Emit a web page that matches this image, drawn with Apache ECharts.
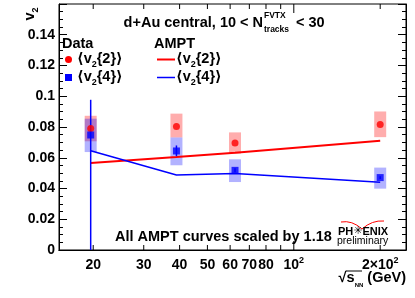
<!DOCTYPE html>
<html>
<head>
<meta charset="utf-8">
<script src="https://cdn.jsdelivr.net/npm/echarts@6/dist/echarts.min.js"></script>
<style>html,body{margin:0;padding:0;background:#fff}#c{width:415px;height:298px}</style>
</head>
<body>
<div id="c"></div>
<script>
// ---- data ----
const energies = [19.6, 39, 62.4, 200];
const v22 = [0.0790, 0.0804, 0.0696, 0.0817];
const v22SysLo = [0.0707, 0.0732, 0.0627, 0.0734];
const v22SysHi = [0.0873, 0.0887, 0.0765, 0.0901];
const v24 = [0.0748, 0.0644, 0.0518, 0.0471];
const v24StatLo = [0.0, 0.0610, 0.0505, 0.0462];
const v24StatHi = [0.0977, 0.0680, 0.0532, 0.0480];
const v24SysLo = [0.0637, 0.0551, 0.0442, 0.0399];
const v24SysHi = [0.0854, 0.0732, 0.0590, 0.0536];
const amptV22 = [0.0566, 0.0605, 0.0633, 0.0711];
const amptV24 = [0.0646, 0.0488, 0.0497, 0.0440];
const xTickVals = [20, 30, 40, 50, 60, 70, 80, 90, 100, 200];
const xMajorTicks = [100];
const xLabelVals = [20, 30, 40, 50, 60, 70, 80, 100, 200];
const xLabelTexts = ['20', '30', '40', '50', '60', '70', '80', '10{sup|2}', '2×10{sup|2}'];

const FONT = '"Liberation Sans", "DejaVu Sans", Arial, sans-serif';
const chart = echarts.init(document.getElementById('c'), null, {renderer: 'canvas'});

function zip3(a, b, c) { return a.map((v, i) => [v, b[i], c[i]]); }
function zip2(a, b) { return a.map((v, i) => [v, b[i]]); }

function boxSeries(lo, hi, color) {
  return {
    type: 'custom', z: 1, clip: true,
    encode: {x: 0, y: [1, 2]},
    data: zip3(energies, lo, hi),
    renderItem: function (params, api) {
      const p1 = api.coord([api.value(0), api.value(2)]);
      const p2 = api.coord([api.value(0), api.value(1)]);
      return {type: 'rect', shape: {x: p1[0] - 6, y: p1[1], width: 12, height: p2[1] - p1[1]},
        style: {fill: color}};
    }
  };
}

const supRich = {sup: {fontSize: 9, fontWeight: 'bold', fontFamily: FONT, verticalAlign: 'top', lineHeight: 12}};
const subRich = {s: {fontSize: 9, fontWeight: 'bold', fontFamily: FONT, verticalAlign: 'bottom', lineHeight: 10}};

function legText(x, y, txt) {
  return {type: 'text', x: x, y: y,
    style: {text: txt, align: 'left', verticalAlign: 'middle', fontSize: 14.5, fontWeight: 'bold',
      fontFamily: FONT, fill: '#000', lineHeight: 20, rich: subRich}};
}

const option = {
  animation: false,
  backgroundColor: '#fff',
  grid: {left: 59, right: 9, top: 4, bottom: 48, show: true, borderColor: '#000', borderWidth: 1},
  xAxis: [
    {type: 'log', logBase: 10, min: 15.2, max: 246,
      axisLine: {show: true, onZero: false, lineStyle: {color: '#000', width: 1}},
      axisTick: {show: false}, axisLabel: {show: false}, splitLine: {show: false}},
    {type: 'log', logBase: 10, min: 15.2, max: 246, position: 'top',
      axisLine: {show: true, lineStyle: {color: '#000'}},
      axisTick: {show: false}, axisLabel: {show: false}, splitLine: {show: false}}
  ],
  yAxis: [
    {type: 'value', min: 0, max: 0.16, interval: 0.02,
      axisLine: {show: true, lineStyle: {color: '#000'}},
      axisTick: {show: true, inside: true, length: 8, lineStyle: {color: '#000'}},
      minorTick: {show: true, splitNumber: 4, length: 4, lineStyle: {color: '#000'}},
      splitLine: {show: false},
      axisLabel: {showMaxLabel: false, margin: 4, color: '#000', fontSize: 14, fontWeight: 'bold', fontFamily: FONT,
        formatter: v => String(parseFloat(v.toFixed(3)))}},
    {type: 'value', min: 0, max: 0.16, interval: 0.02, position: 'right',
      axisLine: {show: true, lineStyle: {color: '#000'}},
      axisTick: {show: true, inside: true, length: 8, lineStyle: {color: '#000'}},
      minorTick: {show: true, splitNumber: 4, length: 4, lineStyle: {color: '#000'}},
      splitLine: {show: false}, axisLabel: {show: false}}
  ],
  series: [
    boxSeries(v22SysLo, v22SysHi, 'rgba(255,0,0,0.32)'),
    boxSeries(v24SysLo, v24SysHi, 'rgba(0,0,255,0.30)'),
    {type: 'line', z: 3, data: zip2(energies, amptV22), showSymbol: false, symbol: 'none',
      lineStyle: {color: '#ff0000', width: 2}},
    {type: 'line', z: 3, data: zip2(energies, amptV24), showSymbol: false, symbol: 'none',
      lineStyle: {color: '#0000ff', width: 1.5}},
    {type: 'custom', z: 4, clip: true, encode: {x: 0, y: [1, 2]},
      data: zip3(energies, v24StatLo, v24StatHi),
      renderItem: function (params, api) {
        const p1 = api.coord([api.value(0), api.value(2)]);
        const p2 = api.coord([api.value(0), api.value(1)]);
        return {type: 'line', shape: {x1: p1[0], y1: p1[1], x2: p2[0], y2: p2[1]},
          style: {stroke: '#0000ff', lineWidth: 1.5}};
      }},
    {type: 'scatter', z: 5, data: zip2(energies, v22), symbol: 'circle', symbolSize: 7,
      itemStyle: {color: '#ff0000'}},
    {type: 'scatter', z: 5, data: zip2(energies, v24), symbol: 'rect', symbolSize: 7,
      itemStyle: {color: '#0000ff'}},
    // x-axis ticks (bottom and top)
    {type: 'custom', z: 6, clip: false, silent: true,
      data: xTickVals.map(v => [v, 0]),
      renderItem: function (params, api) {
        const v = api.value(0);
        const x = api.coord([v, 0])[0];
        const cs = params.coordSys;
        const len = xMajorTicks.indexOf(v) >= 0 ? 9 : 5;
        const b = cs.y + cs.height, t = cs.y;
        return {type: 'group', children: [
          {type: 'line', shape: {x1: x, y1: b, x2: x, y2: b - len}, style: {stroke: '#000', lineWidth: 1}},
          {type: 'line', shape: {x1: x, y1: t, x2: x, y2: t + len}, style: {stroke: '#000', lineWidth: 1}}
        ]};
      }},
    // x-axis labels
    {type: 'custom', z: 6, clip: false, silent: true,
      data: xLabelVals.map((v, i) => [v, 0, i]),
      renderItem: function (params, api) {
        const v = api.value(0);
        const i = api.value(2);
        const x = api.coord([v, 0])[0];
        const cs = params.coordSys;
        return {type: 'text', x: x, y: cs.y + cs.height + 15,
          style: {text: xLabelTexts[i], align: 'center', verticalAlign: 'middle',
            fontSize: 14, fontWeight: 'bold', fontFamily: FONT, fill: '#000', lineHeight: 18,
            rich: supRich}};
      }}
  ],
  graphic: [
    // y-axis title
    {type: 'text', x: 30, y: 14, rotation: Math.PI / 2,
      style: {text: 'v{s|2}', align: 'center', verticalAlign: 'middle', fontSize: 14.5, fontWeight: 'bold',
        fontFamily: FONT, fill: '#000', lineHeight: 20, rich: subRich}},
    // title
    {type: 'text', x: 263, y: 22.5,
      style: {text: 'd+Au central, 10 < N', align: 'right', verticalAlign: 'middle', fontSize: 14.5,
        fontWeight: 'bold', fontFamily: FONT, fill: '#000'}},
    {type: 'text', x: 264, y: 16,
      style: {text: 'FVTX', align: 'left', verticalAlign: 'middle', fontSize: 8.5, fontWeight: 'bold', fontFamily: FONT, fill: '#000'}},
    {type: 'text', x: 264, y: 30,
      style: {text: 'tracks', align: 'left', verticalAlign: 'middle', fontSize: 8.5, fontWeight: 'bold', fontFamily: FONT, fill: '#000'}},
    {type: 'text', x: 296, y: 22.5,
      style: {text: '< 30', align: 'left', verticalAlign: 'middle', fontSize: 14.5, fontWeight: 'bold', fontFamily: FONT, fill: '#000'}},
    // legend
    {type: 'text', x: 62, y: 44,
      style: {text: 'Data', align: 'left', verticalAlign: 'middle', fontSize: 14.5, fontWeight: 'bold', fontFamily: FONT, fill: '#000'}},
    {type: 'text', x: 154, y: 44,
      style: {text: 'AMPT', align: 'left', verticalAlign: 'middle', fontSize: 14.5, fontWeight: 'bold', fontFamily: FONT, fill: '#000'}},
    {type: 'circle', shape: {cx: 68.5, cy: 59.5, r: 3.5}, style: {fill: '#ff0000'}},
    {type: 'rect', shape: {x: 65, y: 74, width: 7, height: 7}, style: {fill: '#0000ff'}},
    {type: 'line', shape: {x1: 157, y1: 59.5, x2: 175, y2: 59.5}, style: {stroke: '#ff0000', lineWidth: 2}},
    {type: 'line', shape: {x1: 157, y1: 77.5, x2: 175, y2: 77.5}, style: {stroke: '#0000ff', lineWidth: 1.5}},
    legText(77, 59, '⟨v{s|2}{2}⟩'),
    legText(77, 77, '⟨v{s|2}{4}⟩'),
    legText(176, 59, '⟨v{s|2}{2}⟩'),
    legText(176, 77, '⟨v{s|2}{4}⟩'),
    // note
    {type: 'text', x: 115, y: 237,
      style: {text: 'All AMPT curves scaled by 1.18', align: 'left', verticalAlign: 'middle', fontSize: 14.5, fontWeight: 'bold', fontFamily: FONT, fill: '#000'}},
    // PHENIX logo
    {type: 'bezierCurve', shape: {x1: 341, y1: 222, x2: 362, y2: 229, cpx1: 352, cpy1: 220}, style: {stroke: '#ff0000', lineWidth: 1, fill: null}},
    {type: 'bezierCurve', shape: {x1: 362, y1: 229, x2: 384, y2: 221, cpx1: 372, cpy1: 220}, style: {stroke: '#ff0000', lineWidth: 1, fill: null}},
    {type: 'text', x: 338, y: 231.5,
      style: {text: 'PH{g|✳}ENIX', align: 'left', verticalAlign: 'middle', fontSize: 11, fontWeight: 'bold', fontFamily: FONT, fill: '#000',
        rich: {g: {fontSize: 11, color: '#888888', fontFamily: '"DejaVu Sans", sans-serif'}}}},
    {type: 'text', x: 337, y: 241,
      style: {text: 'preliminary', align: 'left', verticalAlign: 'middle', fontSize: 10.5, fontFamily: FONT, fill: '#000'}},
    // x-axis title
    {type: 'text', x: 406, y: 278,
      style: {text: '√s{s|NN} (GeV)', align: 'right', verticalAlign: 'middle', fontSize: 14.5, fontWeight: 'bold', fontFamily: FONT, fill: '#000', lineHeight: 20,
        rich: {s: {fontSize: 6, fontWeight: 'bold', fontFamily: FONT, verticalAlign: 'bottom', lineHeight: 9}}}},
    {type: 'line', shape: {x1: 346, y1: 271, x2: 362, y2: 271}, style: {stroke: '#000', lineWidth: 1}}
  ]
};
chart.setOption(option);
</script>
</body>
</html>
